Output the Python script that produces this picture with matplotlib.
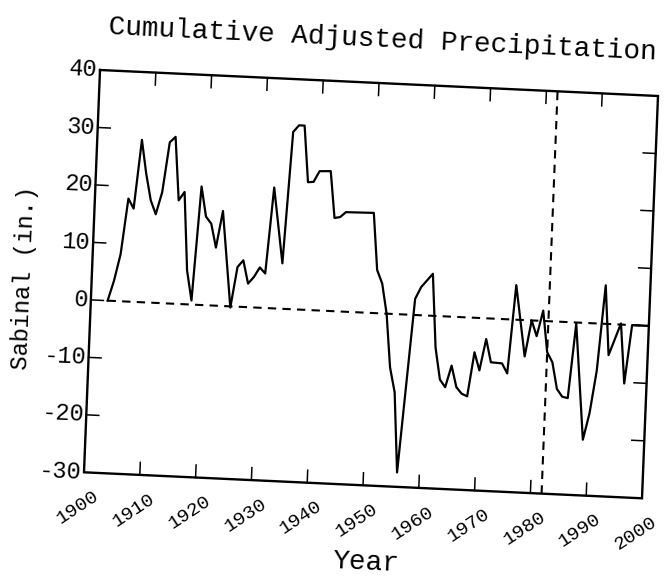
import numpy as np
import matplotlib
matplotlib.use("Agg")
import matplotlib.pyplot as plt
from matplotlib.transforms import Affine2D

# --- cumulative adjusted precipitation, Sabinal (in.) ---
years = [1903, 1904, 1905, 1906, 1907, 1908, 1909, 1910, 1911, 1912,
         1913, 1914, 1915, 1916, 1917, 1918, 1919, 1920, 1921, 1922,
         1923, 1925, 1926, 1927, 1928, 1929, 1930, 1931, 1932, 1934,
         1935, 1936, 1937, 1938, 1939, 1940, 1942, 1943, 1944, 1945,
         1950, 1951, 1952, 1953, 1954, 1955, 1956, 1958, 1959, 1960,
         1961, 1962, 1963, 1964, 1965, 1966, 1967, 1968, 1969, 1970,
         1971, 1972, 1974, 1975, 1976, 1978, 1979, 1980, 1981, 1982,
         1983, 1984, 1985, 1986, 1987, 1989, 1990, 1991, 1992, 1993,
         1995, 1996, 1997, 2000]
precip = [0.0, 3.5, 8.2, 17.9, 16.2, 28.2, 22.4, 17.8, 15.4, 19.3,
          28.0, 29.0, 18.0, 19.5, 5.9, 0.7, 20.6, 15.4, 14.2, 10.1,
          16.5, -0.2, 6.9, 8.1, 4.1, 5.3, 7.0, 6.0, 21.0, 7.9,
          30.8, 32.0, 32.0, 22.2, 22.3, 24.2, 24.3, 16.2, 16.4, 17.3,
          17.4, 7.5, 5.2, 0.0, -9.3, -13.6, -27.5, 2.8, 4.9, 6.1,
          7.3, -5.5, -11.0, -12.3, -8.5, -12.2, -13.3, -13.7, -6.0, -9.1,
          -3.6, -7.6, -7.7, -9.4, 6.0, -6.3, 0.0, -2.7, 1.8, -5.4,
          -7.1, -11.7, -13.0, -13.2, -0.2, -20.3, -15.7, -8.2, 6.7, -5.4,
          0.2, -10.2, 0.0, 0.0]

x_ticks = list(range(1900, 2001, 10))
y_ticks = list(range(-30, 41, 10))
ref_level = 0.0      # horizontal reference
break_year = 1982    # vertical marker

W, H, DPI = 664, 584, 100
plt.rcParams['font.family'] = ['Liberation Mono', 'DejaVu Sans Mono']

fig = plt.figure(figsize=(W / DPI, H / DPI), dpi=DPI)
fig.patch.set_facecolor('white')

# plot box in pixels, top-left corner (x0, y0) measured from the top of the sheet
x0, y0 = 100, 70
box_w, box_h = 558.6, 402.6
ax = fig.add_axes([x0 / W, (H - y0 - box_h) / H, box_w / W, box_h / H])
ax.set_axis_off()

# the page is slightly askew: shear/rotate everything about the top-left corner
ox, oy = x0, H - y0
skew = np.array([[558.0 / box_w, 16.0 / box_h, 0.0],
                 [-26.0 / box_w, 402.3 / box_h, 0.0],
                 [0.0, 0.0, 1.0]])
frame = Affine2D().translate(-ox, -oy) + Affine2D(skew) + Affine2D().translate(ox, oy)
tr = ax.transData + frame
tilt = np.degrees(np.arctan2(-26.0, 558.0))
up = np.degrees(np.arctan2(402.3, 16.0))

xmin, xmax = x_ticks[0], x_ticks[-1]
ymin, ymax = y_ticks[0], y_ticks[-1]
line_kw = dict(color='black', transform=tr, clip_on=False)

# data and reference lines
ax.plot(years, precip, lw=1.6, **line_kw)
ax.plot([years[0], xmax], [ref_level, ref_level], lw=1.5, ls=(0, (4, 3)), **line_kw)
ax.plot([break_year, break_year], [ymin, ymax], lw=1.5, ls=(0, (4, 3)), **line_kw)

# box
ax.plot([xmin, xmax, xmax, xmin, xmin], [ymax, ymax, ymin, ymin, ymax],
        lw=1.7, solid_joinstyle='miter', **line_kw)

# inward ticks on all four sides
tick_px = 12.5
dx = tick_px / (box_w / (xmax - xmin))
dy = tick_px / (box_h / (ymax - ymin))
for t in x_ticks[1:-1]:
    ax.plot([t, t], [ymax, ymax - dy], lw=1.1, **line_kw)
    ax.plot([t, t], [ymin, ymin + dy], lw=1.1, **line_kw)
for v in y_ticks[1:-1]:
    ax.plot([xmin, xmin + dx], [v, v], lw=1.1, **line_kw)
    ax.plot([xmax, xmax - dx], [v, v], lw=1.1, **line_kw)

# tick labels
for t in x_ticks:
    ax.text(t, ymin, str(t), transform=tr + Affine2D().translate(9, -15),
            rotation=tilt + 36, rotation_mode='anchor', ha='right', va='top',
            fontsize=14)
for v in y_ticks:
    ax.text(xmin, v, str(v), transform=tr + Affine2D().translate(-3, 0),
            rotation=tilt, rotation_mode='anchor', ha='right', va='center',
            fontsize=17)

ax.set_xlim(xmin, xmax)
ax.set_ylim(ymin, ymax)

fig.text(383 / W, 1 - 40 / H, 'Cumulative Adjusted Precipitation', rotation=tilt,
         rotation_mode='anchor', ha='center', va='center', fontsize=20)
fig.text(24 / W, 1 - 278 / H, 'Sabinal (in.)', rotation=up,
         rotation_mode='anchor', ha='center', va='center', fontsize=17)
fig.text(366 / W, 1 - 563 / H, 'Year', rotation=tilt,
         rotation_mode='anchor', ha='center', va='center', fontsize=20)

fig.savefig('out.png', dpi=DPI)
